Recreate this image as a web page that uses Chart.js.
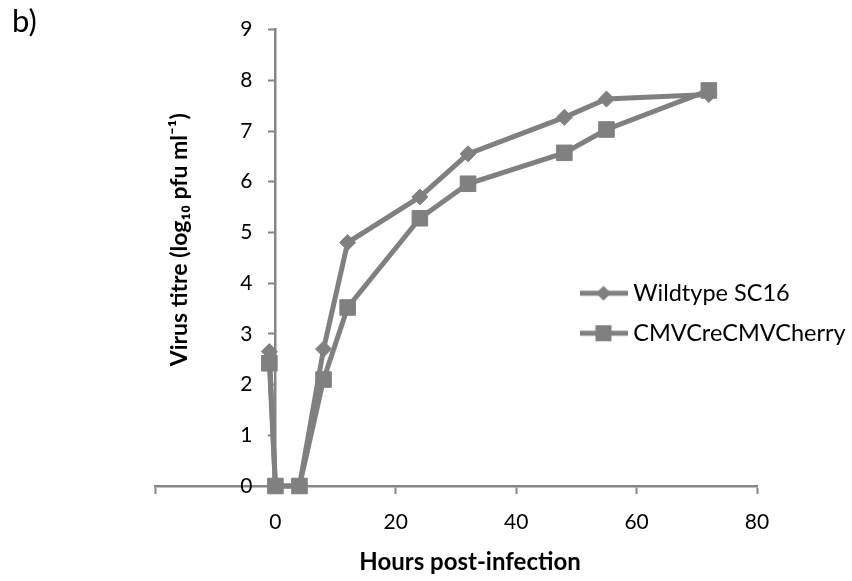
<!DOCTYPE html>
<html>
<head>
<meta charset="utf-8">
<script src="https://cdn.jsdelivr.net/npm/chart.js@4.4.1/dist/chart.umd.min.js"></script>
<style>
html, body { margin: 0; padding: 0; background: #ffffff; }
#wrap { position: relative; width: 852px; height: 581px; overflow: hidden; }
#wrap canvas { position: absolute; left: 0; top: 0; }
#panel { position: absolute; left: 12px; top: 1px; font: 31px Lato, sans-serif; color: #000; }
</style>
</head>
<body>
<div id="wrap">
  <canvas id="c" width="852" height="581"></canvas>
  <div id="panel">b)</div>
</div>
<script>
// ---- data ----
const hours = [-1, 0, 4, 8, 12, 24, 32, 48, 55, 72];
const wildtypeSC16 = [2.65, 0, 0, 2.7, 4.8, 5.7, 6.55, 7.27, 7.63, 7.72];
const cmvCreCmvCherry = [2.42, 0, 0, 2.1, 3.52, 5.28, 5.96, 6.57, 7.03, 7.8];
const seriesNames = ['Wildtype SC16', 'CMVCreCMVCherry'];
const xRange = [-20, 80];
const xStep = 20;
const yRange = [0, 9];
const yStep = 1;
const xTitle = 'Hours post-infection';
const yTitle = 'Virus titre (log\u2081\u2080 pfu ml\u207B\u00B9)';

// ---- styles ----
const GREY = '#808080';
const AXIS = '#868686';
const FONT = 'Lato';

function makeIcon(style) {
  const cv = document.createElement('canvas');
  cv.width = 48; cv.height = 20;
  const g = cv.getContext('2d');
  g.strokeStyle = GREY; g.lineWidth = 5;
  g.beginPath(); g.moveTo(0, 10); g.lineTo(48, 10); g.stroke();
  g.fillStyle = GREY;
  if (style === 'rect') { g.fillRect(16, 2, 16, 16); }
  else { g.beginPath(); g.moveTo(16.5, 10); g.lineTo(24, 2.5); g.lineTo(31.5, 10); g.lineTo(24, 17.5); g.closePath(); g.fill(); }
  return cv;
}
const icons = [makeIcon('rectRot'), makeIcon('rect')];

const placer = {
  id: 'placer',
  afterLayout(chart) {
    const lg = chart.legend;
    if (lg) {
      lg.left = 569; lg.top = 265; lg.width = 283; lg.height = 110;
      lg.right = lg.left + lg.width; lg.bottom = lg.top + lg.height;
    }
    // shift the title-only axes so their titles sit where the reference has them
    const yt = chart.scales.yt; if (yt) { yt.top -= 36; }
    const xt = chart.scales.xt; if (xt) { xt.left += 14; xt.right += 14; }
  },
  beforeDraw(chart) {
    // put the y tick labels to the left of the tick marks (axis is placed at x = 0)
    const y = chart.scales.y;
    const shift = y.options.grid.tickLength + y.options.ticks.padding;
    y.getLabelItems(chart.chartArea).forEach((it) => { it.options.translation[0] -= shift; });
  }
};

const toPts = (vals) => hours.map((h, i) => ({x: h, y: vals[i]}));

new Chart(document.getElementById('c'), {
  type: 'line',
  data: {
    datasets: [
      {
        label: seriesNames[0], data: toPts(wildtypeSC16), order: 1,
        borderColor: GREY, backgroundColor: GREY, borderWidth: 5,
        pointStyle: 'rectRot', pointRadius: 8, pointBorderWidth: 1,
        pointBackgroundColor: GREY, pointBorderColor: GREY, tension: 0, clip: false
      },
      {
        label: seriesNames[1], data: toPts(cmvCreCmvCherry), order: 0,
        borderColor: GREY, backgroundColor: GREY, borderWidth: 5,
        pointStyle: 'rect', pointRadius: 11, pointBorderWidth: 1,
        pointBackgroundColor: GREY, pointBorderColor: GREY, tension: 0, clip: false
      }
    ]
  },
  options: {
    responsive: false,
    animation: false,
    devicePixelRatio: 1,
    events: [],
    layout: { padding: { left: 0, right: 95, top: 24, bottom: 0 } },
    scales: {
      x: {
        type: 'linear', position: 'bottom', min: xRange[0], max: xRange[1],
        ticks: {
          stepSize: xStep, autoSkip: false, maxRotation: 0, padding: 16,
          color: '#000', font: { family: FONT, size: 21 },
          callback: (v) => (v === xRange[0] ? '' : String(v))
        },
        grid: { drawOnChartArea: false, tickLength: 8, tickColor: AXIS, tickWidth: 2 },
        border: { color: AXIS, width: 2.5 },
        afterFit: (s) => { s.height = 60; }
      },
      xt: {
        type: 'linear', position: 'bottom', min: 0, max: 1,
        ticks: { display: false },
        grid: { display: false, drawTicks: false },
        border: { display: false },
        title: { display: true, text: xTitle, color: '#000', font: { family: FONT, size: 24, weight: 'bold' }, padding: { top: 0, bottom: 4 } },
        afterFit: (s) => { s.height = 35; }
      },
      y: {
        type: 'linear', position: { x: 0 }, min: yRange[0], max: yRange[1],
        ticks: { stepSize: yStep, autoSkip: false, padding: 17, color: '#000', font: { family: FONT, size: 21 } },
        grid: { drawOnChartArea: false, tickLength: 6, tickColor: AXIS, tickWidth: 2 },
        border: { color: AXIS, width: 2.5 }
      },
      yt: {
        type: 'linear', position: 'left', min: 0, max: 1,
        ticks: { display: false },
        grid: { display: false, drawTicks: false },
        border: { display: false },
        title: { display: true, text: yTitle, color: '#000', font: { family: FONT, size: 23, weight: 'bold' }, padding: { top: 166, bottom: 0 } },
        afterFit: (s) => { s.width = 155; }
      }
    },
    plugins: {
      tooltip: { enabled: false },
      legend: {
        position: 'chartArea', align: 'start',
        labels: {
          usePointStyle: true, pointStyleWidth: 36, padding: 16.5,
          color: '#000', font: { family: FONT, size: 23.5 },
          generateLabels: (chart) => chart.data.datasets.map((ds, i) => ({
            text: ds.label, pointStyle: icons[i], datasetIndex: i, hidden: false,
            fillStyle: GREY, strokeStyle: GREY, lineWidth: 0, fontColor: '#000'
          }))
        }
      }
    }
  },
  plugins: [placer]
});
</script>
</body>
</html>
